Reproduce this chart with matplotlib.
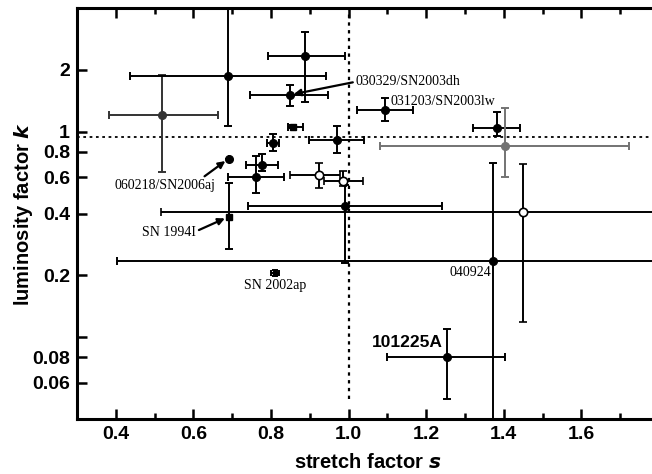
import numpy as np
import matplotlib
matplotlib.use('Agg')
from matplotlib import pyplot as plt
from matplotlib.ticker import FixedLocator, NullLocator, MultipleLocator

plt.rcParams['font.family'] = ['Liberation Sans', 'DejaVu Sans']

# filled points: stretch s, luminosity k, and the error-bar bounds
s_fill = [0.52, 0.69, 0.887, 0.848, 0.856, 0.805, 0.969, 1.093, 1.383, 1.404,
          0.776, 0.761, 0.99, 0.691, 1.373, 0.81, 1.254, 0.691]
k_fill = [1.21, 1.87, 2.34, 1.51, 1.06, 0.884, 0.915, 1.28, 1.045, 0.855,
          0.691, 0.605, 0.433, 0.386, 0.236, 0.206, 0.080, 0.74]
s_lo = [0.383, 0.437, 0.792, 0.746, 0.843, 0.79, 0.897, 1.021, 1.321, 1.08,
        0.735, 0.689, 0.74, 0.691, 0.404, 0.80, 1.10, 0.691]
s_hi = [0.663, 0.941, 0.99, 0.946, 0.882, 0.82, 1.039, 1.167, 1.442, 1.722,
        0.817, 0.833, 1.242, 0.691, 2.34, 0.82, 1.404, 0.691]
k_lo = [0.64, 1.07, 1.40, 1.34, 1.04, 0.81, 0.79, 1.13, 0.956, 0.605,
        0.647, 0.506, 0.229, 0.27, 0.01, 0.199, 0.050, 0.74]
k_hi = [1.89, 5.0, 3.06, 1.69, 1.08, 0.97, 1.07, 1.46, 1.25, 1.31,
        0.78, 0.76, 0.55, 0.565, 0.707, 0.213, 0.110, 0.74]
c_fill = ['0.2', 'k', 'k', 'k', 'k', 'k', 'k', 'k', 'k', '0.45',
          'k', 'k', 'k', 'k', 'k', 'k', 'k', 'k']
m_fill = ['o', 'o', 'o', 'o', 's', 'o', 'o', 'o', 'o', 'o',
          'o', 'o', 'o', 's', 'o', 's', 'o', 'o']
ms_fill = [5.5, 5.5, 5.5, 5.5, 4, 5.5, 5.5, 5.5, 5.5, 5.5,
           5.5, 5.5, 5.5, 4.5, 5.5, 3, 5.5, 5.5]

# open circles
s_open = [0.923, 0.985, 1.45]
k_open = [0.618, 0.578, 0.408]
so_lo = [0.848, 0.936, 0.517]
so_hi = [0.979, 1.036, 2.38]
ko_lo = [0.535, 0.547, 0.119]
ko_hi = [0.707, 0.647, 0.70]

k_ref = 0.946
s_ref = 1.0

fig = plt.figure(figsize=(6.52, 4.74), dpi=100)
ax = fig.add_axes([77/652, 55/474, 582/652, 411/474])
ax.set_yscale('log')
ax.set_xlim(0.3, 1.8)
ax.set_ylim(0.04, 4.0)

# reference lines
ax.plot([0.3, 1.8], [k_ref, k_ref], ls=(0, (1.5, 2)), color='k', lw=1.3, zorder=1)
ax.plot([s_ref, s_ref], [0.05, 4.0], ls=(0, (1.5, 2)), color='k', lw=1.6, zorder=1)

for i in range(len(s_fill)):
    xe = [[s_fill[i] - s_lo[i]], [s_hi[i] - s_fill[i]]]
    ye = [[k_fill[i] - k_lo[i]], [k_hi[i] - k_fill[i]]]
    cs = 3 if ms_fill[i] > 3 else 2
    ax.errorbar([s_fill[i]], [k_fill[i]], xerr=xe, yerr=ye, fmt=m_fill[i],
                color=c_fill[i], ms=ms_fill[i],
                elinewidth=1.4, capsize=cs, capthick=1.4, zorder=3)

for i in range(len(s_open)):
    xe = [[s_open[i] - so_lo[i]], [so_hi[i] - s_open[i]]]
    ye = [[k_open[i] - ko_lo[i]], [ko_hi[i] - k_open[i]]]
    ax.errorbar([s_open[i]], [k_open[i]], xerr=xe, yerr=ye, fmt='o',
                color='k', mfc='white', mec='k', ms=6, mew=1.2,
                elinewidth=1.4, capsize=3, capthick=1.4, zorder=4)

serif = ['Liberation Serif', 'DejaVu Serif']
arr = dict(arrowstyle='-|>', color='k', lw=1.6, mutation_scale=10, shrinkA=0, shrinkB=3)
ax.annotate('030329/SN2003dh', xy=(s_fill[3], k_fill[3]), xytext=(1.018, 1.75),
            ha='left', va='center', family=serif, fontsize=10,
            arrowprops=dict(arr, relpos=(0, 0.5)))
ax.text(1.108, 1.40, '031203/SN2003lw', ha='left', va='center', family=serif, fontsize=10)
ax.annotate('060218/SN2006aj', xy=(s_fill[17], k_fill[17]), xytext=(0.658, 0.547),
            ha='right', va='center', family=serif, fontsize=10,
            arrowprops=dict(arr, relpos=(0.85, 1.0)))
ax.annotate('SN 1994I', xy=(s_fill[13], k_fill[13]), xytext=(0.607, 0.323),
            ha='right', va='center', family=serif, fontsize=10,
            arrowprops=dict(arr, relpos=(1.0, 0.6)))
ax.text(0.81, 0.179, 'SN 2002ap', ha='center', va='center', family=serif, fontsize=10)
ax.text(1.368, 0.207, '040924', ha='right', va='center', family=serif, fontsize=10)
ax.text(1.242, 0.0945, '101225A', ha='right', va='center', fontsize=12.5, fontweight='bold')

# ticks
ax.set_xticks([0.4, 0.6, 0.8, 1.0, 1.2, 1.4, 1.6])
ax.set_xticklabels(['0.4', '0.6', '0.8', '1.0', '1.2', '1.4', '1.6'])
ax.xaxis.set_minor_locator(MultipleLocator(0.1))
ax.yaxis.set_major_locator(FixedLocator([0.06, 0.08, 0.1, 0.2, 0.4, 0.6, 0.8, 1, 2]))
ax.yaxis.set_minor_locator(NullLocator())
ax.set_yticklabels(['0.06', '0.08', '', '0.2', '0.4', '0.6', '0.8', '1', '2'])
ax.tick_params(which='both', direction='in', top=True, right=False, width=1.8)
ax.tick_params(which='major', length=7, labelsize=14, pad=5)
ax.tick_params(which='minor', length=4)
for lab in ax.get_xticklabels() + ax.get_yticklabels():
    lab.set_fontweight('bold')
for sp in ax.spines.values():
    sp.set_linewidth(2.2)

ax.set_xlabel('stretch factor $\\boldsymbol{s}$', fontsize=14.5, fontweight='bold', labelpad=7)
ax.set_ylabel('luminosity factor $\\boldsymbol{k}$', fontsize=14.5, fontweight='bold', labelpad=-2)

fig.savefig('out.png', dpi=100)
